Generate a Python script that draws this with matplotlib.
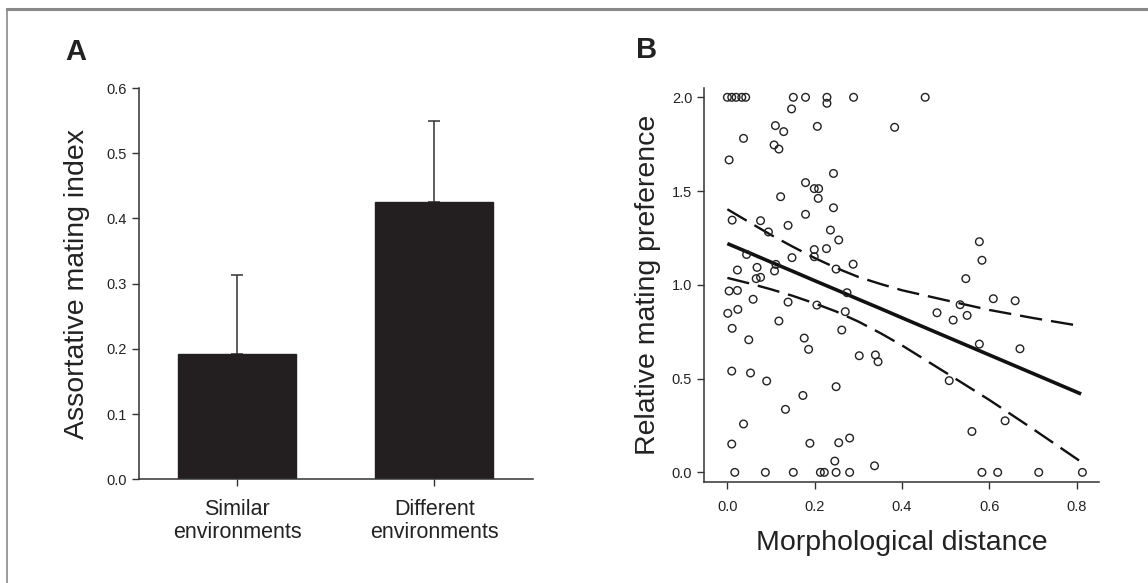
import matplotlib
matplotlib.use("Agg")
import matplotlib.pyplot as plt
from matplotlib.lines import Line2D
import numpy as np

plt.rcParams['font.family'] = ['Liberation Sans', 'DejaVu Sans']

# ---------------- Panel A data ----------------
categories = ["Similar\nenvironments", "Different\nenvironments"]
bar_values = [0.192, 0.426]
bar_errors = [0.122, 0.123]

# ---------------- Panel B data ----------------
morph_x = [0.0, 0.01, 0.02, 0.033, 0.042, 0.151, 0.179, 0.228, 0.289, 0.453,
           0.228, 0.147, 0.110, 0.129, 0.206, 0.383, 0.037, 0.107, 0.118, 0.004,
           0.243, 0.179, 0.199, 0.209, 0.208, 0.122, 0.243, 0.179, 0.011, 0.076,
           0.139, 0.094, 0.236, 0.255, 0.577, 0.199, 0.227, 0.199, 0.044, 0.148,
           0.583, 0.288, 0.111, 0.249, 0.068, 0.023, 0.108, 0.076, 0.066, 0.546,
           0.004, 0.023, 0.274, 0.609, 0.659, 0.059, 0.139, 0.205, 0.533, 0.001,
           0.024, 0.270, 0.480, 0.549, 0.517, 0.118, 0.011, 0.262, 0.049, 0.176,
           0.577, 0.670, 0.186, 0.302, 0.339, 0.345, 0.010, 0.053, 0.508, 0.090,
           0.249, 0.173, 0.133, 0.636, 0.037, 0.560, 0.280, 0.255, 0.189, 0.010,
           0.246, 0.337,
           0.017, 0.087, 0.151, 0.213, 0.222, 0.249, 0.280, 0.583, 0.619, 0.713, 0.813]
pref_y = [2.0, 2.0, 2.0, 2.0, 2.0, 2.0, 2.0, 2.0, 2.0, 2.0,
          1.968, 1.938, 1.849, 1.817, 1.845, 1.840, 1.781, 1.746, 1.724, 1.666,
          1.594, 1.545, 1.513, 1.513, 1.461, 1.470, 1.411, 1.376, 1.345, 1.342,
          1.317, 1.282, 1.292, 1.239, 1.230, 1.188, 1.193, 1.150, 1.162, 1.145,
          1.131, 1.110, 1.109, 1.084, 1.093, 1.079, 1.074, 1.040, 1.033, 1.033,
          0.967, 0.970, 0.958, 0.926, 0.915, 0.923, 0.908, 0.892, 0.894, 0.848,
          0.869, 0.857, 0.851, 0.837, 0.812, 0.807, 0.768, 0.759, 0.707, 0.716,
          0.684, 0.659, 0.656, 0.622, 0.626, 0.590, 0.540, 0.530, 0.489, 0.487,
          0.457, 0.410, 0.336, 0.275, 0.258, 0.218, 0.183, 0.158, 0.155, 0.151,
          0.060, 0.035,
          0.0, 0.0, 0.0, 0.0, 0.0, 0.0, 0.0, 0.0, 0.0, 0.0, 0.0]

# regression line and 95% confidence band
fit_x = [0.0, 0.05, 0.10, 0.15, 0.20, 0.25, 0.30, 0.35, 0.40, 0.50, 0.60, 0.70, 0.81]
fit_y = [1.220, 1.171, 1.121, 1.072, 1.022, 0.973, 0.923, 0.874, 0.824, 0.725, 0.626, 0.527, 0.418]
ci_upper = [1.403, 1.334, 1.266, 1.203, 1.143, 1.089, 1.042, 1.005, 0.971, 0.918, 0.866, 0.823, 0.780]
ci_lower = [1.037, 1.008, 0.976, 0.941, 0.901, 0.857, 0.804, 0.743, 0.677, 0.532, 0.386, 0.231, 0.056]

TXT = '#222222'
SP = '#333333'

fig = plt.figure(figsize=(11.48, 5.83), dpi=100)
fig.patch.set_facecolor('white')

# figure frame (grey border top and left)
fig.add_artist(Line2D([7/1148, 1.0], [1 - 8.5/583, 1 - 8.5/583], transform=fig.transFigure,
                      color='#8a8a8a', lw=2.2))
fig.add_artist(Line2D([7/1148, 7/1148], [0.0, 1 - 8.5/583], transform=fig.transFigure,
                      color='#8a8a8a', lw=1.2))

def style(ax):
    for s in ['top', 'right']:
        ax.spines[s].set_visible(False)
    for s in ['left', 'bottom']:
        ax.spines[s].set_color(SP)
        ax.spines[s].set_linewidth(1.1)
    ax.tick_params(axis='both', colors=SP, labelcolor=TXT, labelsize=10.5,
                   length=5, width=1.0, direction='out')

# ---------------- Panel A ----------------
axA = fig.add_axes([138.7/1148, 1 - 479.4/583, (532.7-138.7)/1148, (479.4-88)/583])
pos = np.arange(len(categories))
axA.bar(pos, bar_values, width=0.6, color='#231f20', edgecolor='#231f20', zorder=2)
axA.errorbar(pos, bar_values, yerr=[np.zeros(len(bar_errors)), bar_errors], fmt='none',
             ecolor='#333333', elinewidth=1.1, capsize=4, capthick=1.1, zorder=1)
axA.set_xlim(-0.5, 1.5)
axA.set_ylim(0, 0.6)
axA.set_yticks([0.0, 0.1, 0.2, 0.3, 0.4, 0.5, 0.6])
axA.set_yticklabels(['0.0', '0.1', '0.2', '0.3', '0.4', '0.5', '0.6'])
axA.set_xticks(pos)
axA.set_xticklabels(categories, fontsize=15.5, linespacing=1.12)
style(axA)
axA.tick_params(axis='x', labelsize=15.5, pad=9)
axA.set_ylabel('Assortative mating index', fontsize=20.5, color=TXT, labelpad=12)
fig.text(76/1148, 1 - 52/583, 'A', fontsize=21, fontweight='bold', color=TXT,
         ha='center', va='center')

# ---------------- Panel B ----------------
axB = fig.add_axes([704/1148, 1 - 482.3/583, (1099-704)/1148, (482.3-88.3)/583])
axB.plot(fit_x, fit_y, color='#111111', lw=2.6, solid_capstyle='butt', zorder=3)
axB.plot(fit_x, ci_upper, color='#111111', lw=1.7, dashes=(9.5, 3.8), zorder=3)
axB.plot(fit_x, ci_lower, color='#111111', lw=1.7, dashes=(9.5, 3.8), zorder=3)
axB.scatter(morph_x, pref_y, s=30, facecolors='none', edgecolors='#222222',
            linewidths=1.0, zorder=4)
axB.set_xlim(-0.0535, 0.851)
axB.set_ylim(-0.053, 2.048)
axB.set_xticks([0.0, 0.2, 0.4, 0.6, 0.8])
axB.set_xticklabels(['0.0', '0.2', '0.4', '0.6', '0.8'])
axB.set_yticks([0.0, 0.5, 1.0, 1.5, 2.0])
axB.set_yticklabels(['0.0', '0.5', '1.0', '1.5', '2.0'])
style(axB)
axB.tick_params(axis='x', pad=8)
axB.set_xlabel('Morphological distance', fontsize=20.5, color=TXT, labelpad=11)
axB.set_ylabel('Relative mating preference', fontsize=20.5, color=TXT, labelpad=8)
fig.text(647/1148, 1 - 50/583, 'B', fontsize=21, fontweight='bold', color=TXT,
         ha='center', va='center')

fig.savefig('out.png', dpi=100, facecolor='white')
